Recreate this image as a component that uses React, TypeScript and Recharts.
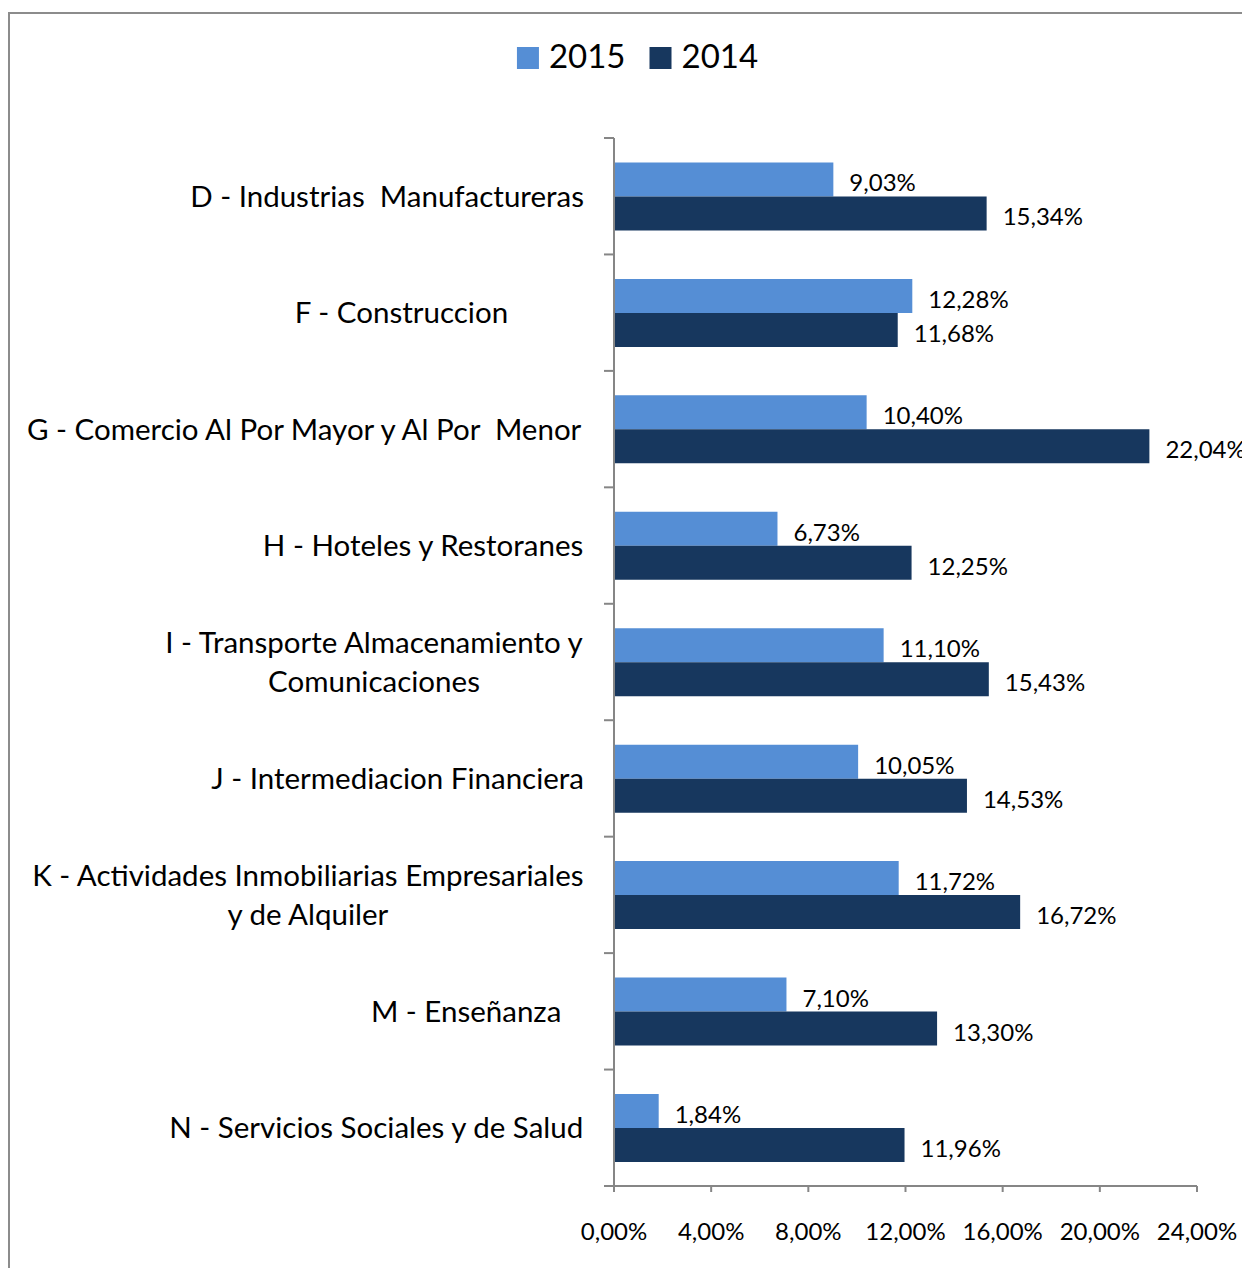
import { BarChart, Bar, XAxis, YAxis, Legend, LabelList } from "recharts";

// categories (trailing spaces kept as in the source labels)
const categories = [
  "D - Industrias  Manufactureras",
  "F - Construccion          ",
  "G - Comercio Al Por Mayor y Al Por  Menor",
  "H - Hoteles y Restoranes",
  "I - Transporte Almacenamiento y\nComunicaciones",
  "J - Intermediacion Financiera",
  "K - Actividades Inmobiliarias Empresariales\ny de Alquiler",
  "M - Enseñanza   ",
  "N - Servicios Sociales y de Salud",
];
const values2015 = [9.03, 12.28, 10.4, 6.73, 11.1, 10.05, 11.72, 7.1, 1.84];
const values2014 = [15.34, 11.68, 22.04, 12.25, 15.43, 14.53, 16.72, 13.3, 11.96];
const xTicks = [0, 4, 8, 12, 16, 20, 24];
const seriesNames = ["2015", "2014"];

const data = categories.map((name, i) => ({
  name,
  v2015: values2015[i],
  v2014: values2014[i],
}));

const WIDTH = 1234;
const HEIGHT = 1260;
const MARGIN_TOP = 130;
const X_AXIS_H = 82;
const Y_AXIS_W = 606;
const BAND = (HEIGHT - MARGIN_TOP - X_AXIS_H) / categories.length;

const FONT = "Lato, 'Open Sans', sans-serif";
const CAT_SIZE = 29.5;
const VAL_SIZE = 24;
const LEGEND_SIZE = 33;
const AXIS_COLOR = "#868686";
const COLORS = ["#558ED5", "#17375E"];

let ctx: CanvasRenderingContext2D | null = null;
function textWidth(s: string, font: string) {
  if (!ctx) ctx = document.createElement("canvas").getContext("2d");
  if (!ctx) return s.length * 12;
  ctx.font = font;
  return ctx.measureText(s).width;
}

const fmt = (v: number) => v.toFixed(2).replace(".", ",") + "%";

function CategoryTick(props: any) {
  const { x, y, payload, index } = props;
  const lines = String(payload.value).split("\n");
  const font = `${CAT_SIZE}px ${FONT}`;
  const w = Math.max(...lines.map((l) => textWidth(l, font)));
  const cx = x - 30 - w / 2;
  const lineH = 39;
  const first = y + 10.5 - ((lines.length - 1) * lineH) / 2;
  const half = BAND / 2;
  return (
    <g>
      <line x1={x - 10} x2={x} y1={y - half} y2={y - half} stroke={AXIS_COLOR} strokeWidth={2} />
      {index === categories.length - 1 && (
        <line x1={x - 10} x2={x} y1={y + half} y2={y + half} stroke={AXIS_COLOR} strokeWidth={2} />
      )}
      <text
        textAnchor="middle"
        fontFamily={FONT}
        fontSize={CAT_SIZE}
        fill="#000"
        style={{ whiteSpace: "pre" }}
      >
        {lines.map((l, i) => (
          <tspan key={i} x={cx} y={first + i * lineH}>
            {l}
          </tspan>
        ))}
      </text>
    </g>
  );
}

function ValueTick(props: any) {
  const { x, y, payload } = props;
  return (
    <text x={x} y={y + 48} textAnchor="middle" fontFamily={FONT} fontSize={VAL_SIZE} fill="#000">
      {fmt(payload.value)}
    </text>
  );
}

function BarLabel(props: any) {
  const { x, y, width, height, value } = props;
  return (
    <text
      x={x + width + 16}
      y={y + height / 2 + 12}
      fontFamily={FONT}
      fontSize={VAL_SIZE}
      fill="#000"
    >
      {fmt(value)}
    </text>
  );
}

function LegendContent() {
  const font = `${LEGEND_SIZE}px ${FONT}`;
  const widths = seriesNames.map((s) => textWidth(s, font));
  const total = widths.reduce((a, w) => a + 22 + 10 + w, 0) + 24;
  let cursor = 629.5 - total / 2;
  return (
    <svg width={WIDTH} height={80}>
      {seriesNames.map((s, i) => {
        const x0 = cursor;
        cursor += 22 + 10 + widths[i] + 24;
        return (
          <g key={s}>
            <rect x={x0} y={39} width={22} height={22} fill={COLORS[i]} />
            <text x={x0 + 32} y={60} fontFamily={FONT} fontSize={LEGEND_SIZE} fill="#000">
              {s}
            </text>
          </g>
        );
      })}
    </svg>
  );
}

export default function App() {
  return (
    <>
      <style>{"body{margin:0;overflow:hidden}"}</style>
      <div
        style={{
          position: "relative",
          marginLeft: 8,
          marginTop: 8,
          width: WIDTH,
          height: HEIGHT,
          overflow: "hidden",
          background: "#fff",
        }}
      >
        <div
          style={{
            position: "absolute",
            left: 0,
            top: 4,
            width: 2000,
            height: 2000,
            border: "2px solid #8c8c8c",
          }}
        />
        <BarChart
          width={WIDTH}
          height={HEIGHT}
          data={data}
          layout="vertical"
          margin={{ top: MARGIN_TOP, right: 45, bottom: 0, left: 0 }}
          barCategoryGap="21%"
          barGap={0}
        >
          <XAxis
            type="number"
            domain={[0, 24]}
            ticks={xTicks}
            interval={0}
            height={X_AXIS_H}
            axisLine={{ stroke: AXIS_COLOR, strokeWidth: 2 }}
            tickLine={{ stroke: AXIS_COLOR, strokeWidth: 2 }}
            tickSize={6}
            tickMargin={0}
            tick={<ValueTick />}
          />
          <YAxis
            type="category"
            dataKey="name"
            width={Y_AXIS_W}
            interval={0}
            axisLine={{ stroke: AXIS_COLOR, strokeWidth: 2 }}
            tickLine={false}
            tickSize={0}
            tickMargin={0}
            tick={<CategoryTick />}
          />
          <Legend
            layout="horizontal"
            verticalAlign="middle"
            align="center"
            wrapperStyle={{ top: 0, left: 0, width: WIDTH }}
            content={<LegendContent />}
          />
          <Bar dataKey="v2015" name={seriesNames[0]} fill={COLORS[0]} isAnimationActive={false}>
            <LabelList dataKey="v2015" content={<BarLabel />} />
          </Bar>
          <Bar dataKey="v2014" name={seriesNames[1]} fill={COLORS[1]} isAnimationActive={false}>
            <LabelList dataKey="v2014" content={<BarLabel />} />
          </Bar>
        </BarChart>
      </div>
    </>
  );
}
